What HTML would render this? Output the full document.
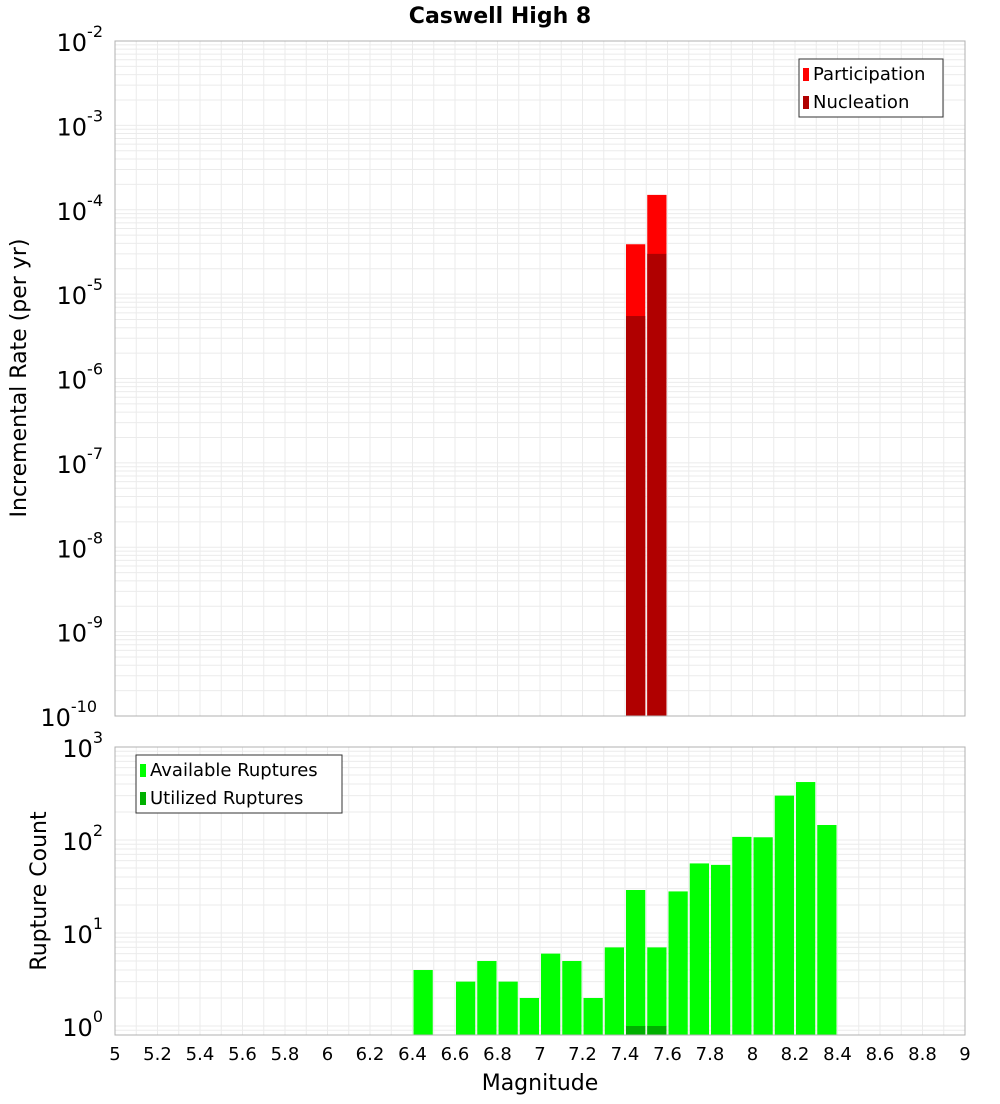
<!DOCTYPE html>
<html><head><meta charset="utf-8">
<style>
body{margin:0;background:#fff;font-family:"DejaVu Sans","Liberation Sans",sans-serif;}
svg text{font-family:"DejaVu Sans","Liberation Sans",sans-serif;}
</style></head>
<body>
<svg id="chart" width="1000" height="1100" xmlns="http://www.w3.org/2000/svg">
<text x="500" y="23" text-anchor="middle" font-size="22" font-weight="bold">Caswell High 8</text>
<g id="topplot"></g><g id="botplot"></g>
</svg>
<script>
const binCenters=[7.45,7.55];
const participation=[3.9e-5,1.5e-4];
const nucleation=[5.5e-6,3.0e-5];
const countBins=[6.45,6.65,6.75,6.85,6.95,7.05,7.15,7.25,7.35,7.45,7.55,7.65,7.75,7.85,7.95,8.05,8.15,8.25,8.35];
const available=[4,3,5,3,2,6,5,2,7,29,7,28,56,54,108,107,300,420,145];
const utilizedBins=[7.45,7.55];
const utilized=[1,1];
const xTicks=[5,5.2,5.4,5.6,5.8,6,6.2,6.4,6.6,6.8,7,7.2,7.4,7.6,7.8,8,8.2,8.4,8.6,8.8,9];
const topExps=[-2,-3,-4,-5,-6,-7,-8,-9,-10];
const botExps=[3,2,1,0];

const NS="http://www.w3.org/2000/svg";
const X0=115,X1=965;
const xs=v=>X0+(v-5)/4*(X1-X0);
const T0=41,T1=716;
const yt=v=>T0+(-2-Math.log10(v))/8*(T1-T0);
const B0=747,B1=1035,DEC=93;
const yb=v=>B0+(3-Math.log10(v))*DEC;
function mk(parent,tag,attrs,text){const e=document.createElementNS(NS,tag);for(const k in attrs)e.setAttribute(k,attrs[k]);if(text!=null)e.textContent=text;parent.appendChild(e);return e;}
const topG=document.getElementById('topplot'),botG=document.getElementById('botplot');

function grid(g,y0,y1,ylog){
  for(let i=0;i<=40;i++){const v=5+i*0.1;const l=mk(g,'line',{x1:xs(v),x2:xs(v),y1:y0,y2:y1,stroke:'#ebebeb','stroke-width':1});
  }
  ylog.forEach(y=>{if(y>=y0&&y<=y1){const l=mk(g,'line',{x1:X0,x2:X1,y1:y,y2:y,stroke:'#ebebeb','stroke-width':1});
  }});
}
let ty=[];for(let e=-10;e<-2;e++)for(let m=1;m<10;m++)ty.push(yt(m*Math.pow(10,e)));ty.push(yt(1e-2));
grid(topG,T0,T1,ty);
let by=[];for(let e=-1;e<3;e++)for(let m=1;m<10;m++)by.push(yb(m*Math.pow(10,e)));by.push(yb(1000));
grid(botG,B0,B1,by);

const bw=(xs(0.1)-xs(0))-2;
binCenters.forEach((c,i)=>{
  const r=mk(topG,'rect',{x:xs(c)-bw/2,y:yt(participation[i]),width:bw,height:T1-yt(participation[i]),fill:'#ff0000'});
  
  
});
binCenters.forEach((c,i)=>{
  const r=mk(topG,'rect',{x:xs(c)-bw/2,y:yt(nucleation[i]),width:bw,height:T1-yt(nucleation[i]),fill:'#b00000'});
  
  
});
countBins.forEach((c,i)=>{
  const r=mk(botG,'rect',{x:xs(c)-bw/2,y:yb(available[i]),width:bw,height:B1-yb(available[i]),fill:'#00ff00'});
  
  
});
utilizedBins.forEach((c,i)=>{
  const r=mk(botG,'rect',{x:xs(c)-bw/2,y:yb(utilized[i]),width:bw,height:B1-yb(utilized[i]),fill:'#00b000'});
  
  
});
let f=mk(topG,'rect',{x:X0,y:T0,width:X1-X0,height:T1-T0,fill:'none',stroke:'#b0b0b0'});


f=mk(botG,'rect',{x:X0,y:B0,width:X1-X0,height:B1-B0,fill:'none',stroke:'#b0b0b0'});


topExps.forEach(e=>{const y=yt(Math.pow(10,e));
  const t=mk(topG,'text',{x:e<=-10?97:103,y:y+10,'text-anchor':'end','font-size':24});
  
  
  t.textContent='10';mk(t,'tspan',{dy:-14,'font-size':16},String(e));
});
botExps.forEach(e=>{const y=yb(Math.pow(10,e));
  const t=mk(botG,'text',{x:103,y:y+10,'text-anchor':'end','font-size':24});
  
  
  t.textContent='10';mk(t,'tspan',{dy:-14,'font-size':16},String(e));
});
xTicks.forEach(v=>{
  const t=mk(botG,'text',{x:xs(v),y:1060,'text-anchor':'middle','font-size':18},String(v));
  
  
});
let t=mk(botG,'text',{x:540,y:1090,'text-anchor':'middle','font-size':22},'Magnitude');


t=mk(topG,'text',{x:26,y:378,'text-anchor':'middle','font-size':22,transform:'rotate(-90 26 378)'},'Incremental Rate (per yr)');


t=mk(botG,'text',{x:46,y:891,'text-anchor':'middle','font-size':22,transform:'rotate(-90 46 891)'},'Rupture Count');


function legend(g,x,y,w,items,name){
  const lg=mk(g,'g',{});
  
  
  mk(lg,'rect',{x:x,y:y,width:w,height:58,fill:'#fff',stroke:'#333'});
  items.forEach((it,i)=>{
    const e=mk(lg,'g',{});
    
    
    mk(e,'rect',{x:x+4,y:y+9+i*28,width:6,height:13,fill:it[1]});
    mk(e,'text',{x:x+14,y:y+21+i*28,'font-size':18},it[0]);
  });
}
legend(topG,799,59,144,[['Participation','#ff0000'],['Nucleation','#b00000']],'top-legend');
legend(botG,136,755,206,[['Available Ruptures','#00ff00'],['Utilized Ruptures','#00b000']],'bottom-legend');
</script>
</body></html>
